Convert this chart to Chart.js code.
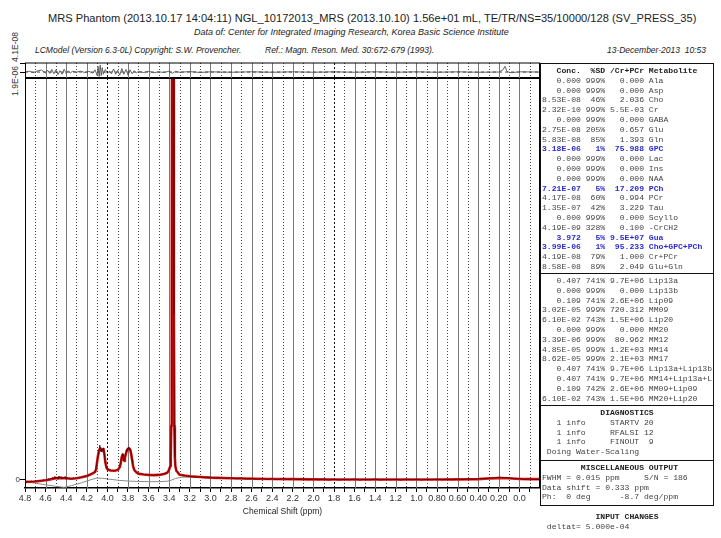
<!DOCTYPE html>
<html>
<head>
<meta charset="utf-8">
<script src="https://cdn.jsdelivr.net/npm/chart.js@4.4.0/dist/chart.umd.min.js"></script>
<style>
body { margin: 0; width: 721px; height: 538px; background: #fff; position: relative; overflow: hidden; font-family: "Liberation Sans", Arial, sans-serif; color: #222; }
.t { position: absolute; white-space: nowrap; }
.it { font-style: italic; font-size: 9px; }
.rot { position: absolute; font-size: 8.5px; color: #333; transform: translate(-50%, -50%) rotate(-90deg); white-space: nowrap; }
canvas { position: absolute; left: 0; }
#box { position: absolute; left: 540px; top: 63px; width: 172px; height: 441px; border: 1px solid #111; }
.sep { position: absolute; left: 540px; width: 174px; height: 0; border-top: 1.5px solid #111; }
pre { position: absolute; margin: 0; font-family: "Liberation Mono", "DejaVu Sans Mono", monospace; font-size: 8.1px; line-height: 9.8px; color: #444; }
.b { color: #2a2ad0; font-weight: bold; }
.h { font-weight: bold; color: #222; }
</style>
</head>
<body>
<div class="t" style="left:48px;top:12px;font-size:11.1px;">MRS Phantom (2013.10.17 14:04:11) NGL_10172013_MRS (2013.10.10) 1.56e+01 mL, TE/TR/NS=35/10000/128 (SV_PRESS_35)</div>
<div class="t it" style="left:194px;top:27px;">Data of: Center for Integrated Imaging Research, Korea Basic Science Institute</div>
<div class="t it" style="left:35px;top:45px;font-size:8.5px;">LCModel (Version 6.3-0L) Copyright: S.W. Provencher.</div>
<div class="t it" style="left:265px;top:45px;font-size:8.5px;">Ref.: Magn. Reson. Med. 30:672-679 (1993).</div>
<div class="t it" style="right:15px;top:45px;font-size:8.5px;">13-December-2013&nbsp;&nbsp;10:53</div>
<div class="rot" style="left:15px;top:47px;">4.1E-08</div>
<div class="rot" style="left:15px;top:81px;">1.9E-06</div>

<canvas id="main" width="560" height="448" style="top:70px"></canvas>
<canvas id="resid" width="560" height="30" style="top:55px"></canvas>

<div id="box"></div>
<div class="sep" style="top:273px"></div>
<div class="sep" style="top:405px"></div>
<div class="sep" style="top:460px"></div>

<pre style="left:542px;top:66px"><span class="h">   Conc.  %SD /Cr+PCr Metabolite</span>
   0.000 999%   0.000 Ala
   0.000 999%   0.000 Asp
8.53E-08  46%   2.036 Cho
2.32E-10 999% 5.5E-03 Cr
   0.000 999%   0.000 GABA
2.75E-08 205%   0.657 Glu
5.83E-08  85%   1.393 Gln
<span class="b">3.18E-06   1%  75.988 GPC</span>
   0.000 999%   0.000 Lac
   0.000 999%   0.000 Ins
   0.000 999%   0.000 NAA
<span class="b">7.21E-07   5%  17.209 PCh</span>
4.17E-08  60%   0.994 PCr
1.35E-07  42%   3.229 Tau
   0.000 999%   0.000 Scyllo
4.19E-09 328%   0.100 -CrCH2
<span class="b">   3.972   5% 9.5E+07 Gua</span>
<span class="b">3.99E-06   1%  95.233 Cho+GPC+PCh</span>
4.19E-08  79%   1.000 Cr+PCr
8.58E-08  89%   2.049 Glu+Gln</pre>

<pre style="left:542px;top:276px">   0.407 741% 9.7E+06 Lip13a
   0.000 999%   0.000 Lip13b
   0.109 741% 2.6E+06 Lip09
3.02E-05 999% 720.312 MM09
6.10E-02 743% 1.5E+06 Lip20
   0.000 999%   0.000 MM20
3.39E-06 999%  80.962 MM12
4.85E-05 999% 1.2E+03 MM14
8.62E-05 999% 2.1E+03 MM17
   0.407 741% 9.7E+06 Lip13a+Lip13b
   0.407 741% 9.7E+06 MM14+Lip13a+L
   0.109 742% 2.6E+06 MM09+Lip09
6.10E-02 743% 1.5E+06 MM20+Lip20</pre>

<pre style="left:542px;top:408px"><span class="h">            DIAGNOSTICS</span>
   1 info     STARTV 20
   1 info     RFALSI 12
   1 info     FINOUT  9
 Doing Water-Scaling</pre>

<pre style="left:542px;top:463px"><span class="h">        MISCELLANEOUS OUTPUT</span>
FWHM = 0.015 ppm     S/N = 186
Data shift = 0.333 ppm
Ph:  0 deg      -8.7 deg/ppm</pre>

<pre style="left:542px;top:512px"><span class="h">           INPUT CHANGES</span>
 deltat= 5.000e-04</pre>

<script>
// chemical shift tick labels (ppm axis runs 4.8 -> -0.2)
const xTickValues = [4.8, 4.6, 4.4, 4.2, 4.0, 3.8, 3.6, 3.4, 3.2, 3.0, 2.8, 2.6, 2.4, 2.2, 2.0, 1.8, 1.6, 1.4, 1.2, 1.0, 0.8, 0.6, 0.4, 0.2, 0.0];
const xTickLabels = ['4.8', '4.6', '4.4', '4.2', '4.0', '3.8', '3.6', '3.4', '3.2', '3.0', '2.8', '2.6', '2.4', '2.2', '2.0', '1.8', '1.6', '1.4', '1.2', '1.0', '0.80', '0.60', '0.40', '0.20', '0.0'];
const darkLines = [4.0, 1.8];

// measured data (units of 1E-08)
const dataPpm = [4.80, 4.78, 4.76, 4.74, 4.72, 4.70, 4.68, 4.66, 4.64, 4.62,
  4.60, 4.59, 4.58, 4.57, 4.56, 4.55, 4.54, 4.53, 4.52, 4.51, 4.50, 4.49, 4.48, 4.47, 4.46, 4.45, 4.44, 4.43, 4.42, 4.41,
  4.40, 4.39, 4.38, 4.37, 4.36, 4.35, 4.34, 4.33, 4.32, 4.31, 4.30,
  4.28, 4.26, 4.24, 4.22, 4.20, 4.18, 4.16, 4.14, 4.13, 4.12, 4.11, 4.10, 4.09, 4.085, 4.08, 4.075, 4.07, 4.065, 4.06, 4.055,
  4.05, 4.045, 4.04, 4.035, 4.03, 4.02, 4.01, 4.00, 3.99, 3.98, 3.97, 3.96, 3.95, 3.94, 3.93, 3.92, 3.91, 3.90, 3.89, 3.88,
  3.875, 3.87, 3.865, 3.86, 3.855, 3.85, 3.845, 3.84, 3.835, 3.83, 3.825, 3.82, 3.815, 3.81, 3.805, 3.80, 3.795, 3.79, 3.785,
  3.78, 3.775, 3.77, 3.765, 3.76, 3.755, 3.75, 3.74, 3.73, 3.72, 3.71, 3.70, 3.68, 3.66, 3.64, 3.62, 3.60, 3.58, 3.56, 3.54,
  3.52, 3.50, 3.48, 3.46, 3.44, 3.42, 3.41, 3.40, 3.39, 3.385, 3.38, 3.375, 3.37, 3.365, 3.36, 3.355, 3.35, 3.345, 3.34, 3.33,
  3.32, 3.31, 3.30, 3.28, 3.26, 3.24, 3.22, 3.20, 3.15, 3.10, 3.05, 3.00, 2.95, 2.90, 2.85, 2.80, 2.75, 2.70, 2.65, 2.60,
  2.55, 2.50, 2.45, 2.40, 2.35, 2.30, 2.25, 2.20, 2.15, 2.10, 2.05, 2.00, 1.95, 1.90, 1.85, 1.80, 1.75, 1.70, 1.65, 1.60,
  1.55, 1.50, 1.45, 1.40, 1.35, 1.30, 1.25, 1.20, 1.15, 1.10, 1.05, 1.00, 0.95, 0.90, 0.85, 0.80, 0.75, 0.70, 0.65, 0.60,
  0.55, 0.50, 0.45, 0.40, 0.35, 0.30, 0.25, 0.20, 0.15, 0.10, 0.05, 0.00, -0.05, -0.10, -0.15, -0.20];
const dataVals = [-1.6, -1.3, -1.5, -1.1, -1.3, -0.9, -1.2, -0.8, -0.9, -0.5,
  -0.7, -0.2, -0.6, 0.1, -0.3, 0.4, -0.1, 0.8, 0.0, 1.2, 0.2, 1.0, -0.2, 1.4, 0.3, 1.1, -0.1, 0.9, 0.2, 1.2,
  -0.2, 0.7, 0.0, 0.5, -0.2, 0.3, 0.0, 0.4, 0.1, 0.5, 0.3,
  0.6, 0.7, 1.0, 1.1, 1.5, 1.8, 2.3, 2.9, 3.4, 3.2, 5.0, 8.5, 11.0, 12.5, 14.0, 16.0, 14.8, 13.2, 13.8, 12.9,
  14.0, 13.6, 14.6, 13.0, 11.8, 7.5, 5.8, 4.4, 4.6, 4.0, 4.3, 3.8, 4.1, 3.7, 4.0, 3.9, 4.4, 4.1, 5.0, 5.8,
  7.2, 8.0, 9.8, 10.8, 11.9, 11.0, 9.5, 8.6, 8.9, 10.4, 11.8, 12.3, 13.8, 13.2, 14.6, 14.0, 15.0, 14.2, 14.8,
  13.6, 13.9, 12.1, 10.5, 9.2, 7.4, 6.1, 4.5, 3.6, 3.3, 2.8, 2.6, 2.2, 2.4, 2.0, 2.1, 1.8, 2.0, 1.7, 1.9,
  1.8, 2.0, 2.1, 2.3, 2.4, 3.0, 3.6, 4.6, 6.2, 10.5, 26, 82, 310, 690, 290, 78, 24, 10.5, 6.2, 3.9,
  3.2, 2.5, 2.2, 1.8, 1.5, 1.6, 1.2, 1.3, 0.9, 1.0, 0.6, 0.8, 0.4, 0.6, 0.3, 0.5, 0.1, 0.4, 0.0, 0.3,
  -0.1, 0.2, -0.2, 0.1, -0.3, 0.1, -0.2, 0.0, -0.3, 0.0, -0.4, -0.1, -0.4, -0.1, -0.5, -0.2, -0.5, -0.2, -0.4, -0.1,
  -0.5, -0.2, -0.4, -0.1, -0.5, -0.2, -0.4, -0.2, -0.5, -0.1, -0.4, -0.2, -0.5, -0.2, -0.4, -0.1, -0.4, -0.2, -0.4, -0.1,
  -0.3, 0.0, -0.2, 0.1, 0.2, 0.4, 0.5, 0.8, 0.6, 0.5, 0.1, 0.2, -0.2, 0.0, -0.3, -0.1];

// LCModel fit
const fitPpm = [4.80, 4.70, 4.60, 4.55, 4.50, 4.45, 4.40, 4.35, 4.30, 4.25, 4.20, 4.16, 4.13, 4.12, 4.11, 4.10, 4.09, 4.08,
  4.07, 4.06, 4.05, 4.04, 4.03, 4.02, 4.01, 4.00, 3.97, 3.93, 3.90, 3.88, 3.87, 3.86, 3.85, 3.84, 3.835, 3.83, 3.82, 3.81,
  3.80, 3.79, 3.78, 3.77, 3.76, 3.75, 3.74, 3.72, 3.70, 3.65, 3.60, 3.55, 3.50, 3.45, 3.42, 3.41, 3.40, 3.39, 3.385, 3.38,
  3.375, 3.37, 3.365, 3.36, 3.355, 3.35, 3.345, 3.34, 3.33, 3.32, 3.31, 3.30, 3.25, 3.20, 3.10, 3.00, 2.80, 2.60, 2.40,
  2.20, 2.00, 1.80, 1.60, 1.40, 1.20, 1.00, 0.80, 0.60, 0.40, 0.30, 0.20, 0.10, 0.00, -0.10, -0.20];
const fitVals = [-1.4, -1.2, -0.6, -0.2, 0.3, 0.4, 0.3, 0.1, 0.3, 0.8, 1.4, 2.2, 3.0, 3.3, 4.5, 8.0, 11.5, 13.5,
  14.5, 13.5, 13.8, 14.2, 12.0, 8.0, 5.5, 4.6, 4.0, 3.9, 4.2, 5.5, 7.5, 10.5, 11.5, 9.0, 8.5, 10.0, 12.0, 13.5,
  14.3, 14.5, 14.0, 12.0, 9.0, 6.0, 4.3, 3.2, 2.5, 2.1, 1.9, 1.8, 1.9, 2.3, 2.9, 3.5, 4.5, 6.0, 10, 25,
  80, 300, 700, 300, 80, 25, 10, 6.0, 3.8, 3.3, 2.6, 2.0, 1.6, 1.3, 0.9, 0.6, 0.3, 0.1, 0.0,
  -0.1, -0.2, -0.3, -0.3, -0.3, -0.3, -0.3, -0.3, -0.2, -0.1, 0.2, 0.4, 0.3, 0.0, -0.1, -0.1];

// baseline
const basePpm = [4.80, 4.70, 4.60, 4.50, 4.42, 4.35, 4.25, 4.15, 4.10, 4.05, 4.00, 3.90, 3.80, 3.70, 3.60, 3.50, 3.42,
  3.38, 3.34, 3.28, 3.20, 3.00, 2.50, 2.00, 1.50, 1.00, 0.50, 0.20, 0.00, -0.20];
const baseVals = [-1.2, -2.0, -2.8, -3.5, -4.0, -3.2, -1.8, -0.2, 0.4, 0.3, 0.0, -0.6, -1.0, -1.2, -1.3, -1.3, -1.1,
  -0.6, 0.2, 0.8, 0.9, 0.6, 0.2, -0.1, -0.3, -0.3, -0.2, 0.3, 0.0, -0.1];

// residual (data - fit), units of 1E-08
const resPpm = [4.80, 4.76, 4.72, 4.68, 4.64, 4.60, 4.58, 4.56, 4.54, 4.52, 4.50, 4.48, 4.46, 4.44, 4.42, 4.40, 4.38,
  4.36, 4.34, 4.30, 4.26, 4.22, 4.18, 4.14, 4.12, 4.10, 4.09, 4.08, 4.07, 4.06, 4.05, 4.04, 4.02, 4.00, 3.98, 3.96, 3.94,
  3.92, 3.90, 3.88, 3.86, 3.84, 3.82, 3.80, 3.78, 3.76, 3.74, 3.72, 3.70, 3.65, 3.60, 3.55, 3.50, 3.45, 3.40, 3.37, 3.34,
  3.30, 3.20, 3.10, 3.00, 2.80, 2.60, 2.40, 2.20, 2.00, 1.80, 1.60, 1.40, 1.20, 1.00, 0.80, 0.60, 0.40, 0.20, 0.16, 0.14,
  0.12, 0.08, 0.00, -0.20];
const resVals = [0.0, 0.4, -0.3, 0.5, 0.9, -0.4, 0.8, -0.6, 1.2, -0.8, 1.0, -1.2, 0.6, -1.0, 1.3, -0.6, 0.5,
  -0.4, 0.3, 0.0, 0.4, -0.2, 0.3, -0.5, 1.0, -1.5, 2.5, -2.0, 3.2, -1.6, 2.0, -1.0, 1.2, -0.6, 0.4, -0.8, 1.4,
  -1.0, 0.8, -1.4, 1.6, -1.0, 1.2, -1.4, 1.0, -0.8, 0.6, -0.4, 0.3, -0.2, 0.3, -0.3, 0.1, -0.2, 0.4, -0.6, 0.3,
  -0.1, 0.2, -0.2, 0.1, -0.1, 0.1, -0.1, 0.1, -0.1, 0.1, -0.1, 0.1, -0.1, 0.1, -0.1, 0.1, -0.1, 0.0, 1.0, 2.6,
  0.2, -0.3, 0.1, 0.0];
const resZeroPpm = [4.80, -0.20];
const resZeroVals = [0, 0];

const pts = (xs, ys) => xs.map((x, i) => ({ x: x, y: ys[i] }));

// vertical ppm grid, drawn through the x scale
const ppmGrid = {
  id: 'ppmGrid',
  beforeDatasetsDraw(chart) {
    const { ctx, chartArea: a, scales: { x } } = chart;
    ctx.save();
    ctx.lineWidth = 1;
    for (let t = 47; t >= -1; t--) {
      const v = t / 10;
      const px = Math.round(x.getPixelForValue(v)) + 0.5;
      if (darkLines.some(d => Math.abs(d - v) < 1e-6)) { ctx.strokeStyle = '#111'; ctx.setLineDash([2, 2]); }
      else if (t % 2 === 0) { ctx.strokeStyle = '#777'; ctx.setLineDash([]); }
      else { ctx.strokeStyle = '#444'; ctx.setLineDash([1, 2]); }
      ctx.beginPath();
      ctx.moveTo(px, a.top);
      ctx.lineTo(px, a.bottom);
      ctx.stroke();
    }
    ctx.restore();
  }
};

const frame = {
  id: 'frame',
  afterDatasetsDraw(chart, args, opts) {
    const { ctx, chartArea: a, scales: { y } } = chart;
    ctx.save();
    ctx.strokeStyle = '#000';
    ctx.setLineDash([]);
    ctx.lineWidth = 1;
    ctx.beginPath();
    ctx.moveTo(a.left + 0.5, a.top); ctx.lineTo(a.left + 0.5, a.bottom);
    ctx.moveTo(a.right - 0.5, a.top); ctx.lineTo(a.right - 0.5, a.bottom);
    ctx.stroke();
    ctx.lineWidth = opts.topWidth;
    ctx.beginPath();
    ctx.moveTo(a.left, a.top); ctx.lineTo(a.right, a.top);
    ctx.stroke();
    // left zero tick
    const y0 = Math.round(y.getPixelForValue(0)) + 0.5;
    ctx.lineWidth = 1;
    ctx.beginPath();
    ctx.moveTo(a.left - 5, y0); ctx.lineTo(a.left, y0);
    if (opts.topTick) { ctx.moveTo(a.left - 5, a.top + 0.5); ctx.lineTo(a.left, a.top + 0.5); }
    ctx.stroke();
    if (opts.zeroLabel) {
      ctx.fillStyle = '#333';
      ctx.font = '8px "Liberation Sans", Arial, sans-serif';
      ctx.textAlign = 'right';
      ctx.textBaseline = 'middle';
      ctx.fillText('0', a.left - 5, y0);
    }
    ctx.restore();
  }
};

Chart.defaults.font.family = '"Liberation Sans", Arial, sans-serif';
Chart.defaults.color = '#222';

new Chart(document.getElementById('main'), {
  type: 'line',
  data: {
    datasets: [
      { data: pts(dataPpm, dataVals), borderColor: '#6e0000', borderWidth: 1 },
      { data: pts(fitPpm, fitVals), borderColor: '#d41414', borderWidth: 2.6 },
      { data: pts(basePpm, baseVals), borderColor: '#8a8a8a', borderWidth: 1 }
    ]
  },
  options: {
    responsive: false,
    animation: false,
    events: [],
    layout: { padding: { left: 25, right: 20, top: 8, bottom: 0 } },
    elements: { point: { radius: 0 }, line: { tension: 0, borderJoinStyle: 'round' } },
    plugins: { legend: { display: false }, tooltip: { enabled: false }, frame: { topWidth: 2, zeroLabel: true, topTick: false } },
    scales: {
      x: {
        type: 'linear', reverse: true, min: -0.2, max: 4.8,
        afterFit: (s) => { s.height = 30; },
        grid: { drawOnChartArea: false, drawTicks: true, tickLength: 4, tickColor: '#000' },
        border: { display: true, color: '#000', width: 1.5 },
        ticks: {
          stepSize: 0.1, maxTicksLimit: 100, autoSkip: false, maxRotation: 0, padding: 1,
          font: { size: 9 }, color: '#333',
          callback: (v) => {
            const i = xTickValues.findIndex(t => Math.abs(t - v) < 1e-6);
            return i < 0 ? '' : xTickLabels[i];
          }
        },
        title: { display: true, text: 'Chemical Shift (ppm)', font: { size: 8.5 }, color: '#222', padding: { top: 0, bottom: 1 } }
      },
      y: { display: false, min: -4.3, max: 190 }
    }
  },
  plugins: [ppmGrid, frame]
});

new Chart(document.getElementById('resid'), {
  type: 'line',
  data: {
    datasets: [
      { data: pts(resPpm, resVals), borderColor: '#555', borderWidth: 0.9 },
      { data: pts(resZeroPpm, resZeroVals), borderColor: '#444', borderWidth: 1, borderDash: [3, 3] }
    ]
  },
  options: {
    responsive: false,
    animation: false,
    events: [],
    layout: { padding: { left: 25, right: 20, top: 8, bottom: 7 } },
    elements: { point: { radius: 0 }, line: { tension: 0 } },
    plugins: { legend: { display: false }, tooltip: { enabled: false }, frame: { topWidth: 1, zeroLabel: false, topTick: true } },
    scales: {
      x: { type: 'linear', display: false, reverse: true, min: -0.2, max: 4.8 },
      y: { display: false, min: -2.7, max: 4.1 }
    }
  },
  plugins: [ppmGrid, frame]
});
</script>
</body>
</html>
